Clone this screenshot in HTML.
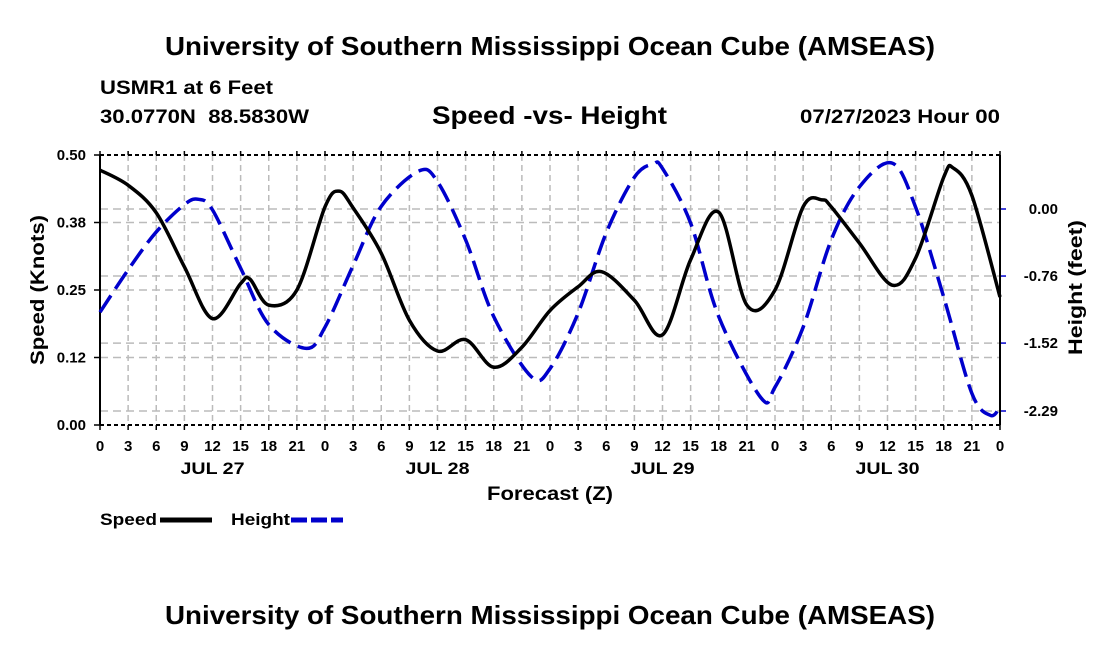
<!DOCTYPE html>
<html><head><meta charset="utf-8"><style>
body{margin:0;background:#fff}
svg text{font-family:"Liberation Sans",sans-serif;font-weight:bold}
</style></head><body>
<svg id="c" width="1100" height="650" xmlns="http://www.w3.org/2000/svg">
<text x="165" y="55" font-size="26" textLength="770" lengthAdjust="spacingAndGlyphs">University of Southern Mississippi Ocean Cube (AMSEAS)</text>
<text x="100" y="94" font-size="19" textLength="173" lengthAdjust="spacingAndGlyphs">USMR1 at 6 Feet</text>
<text x="100" y="123" font-size="19" textLength="209" lengthAdjust="spacingAndGlyphs" xml:space="preserve">30.0770N  88.5830W</text>
<text x="432" y="124" font-size="25" textLength="235" lengthAdjust="spacingAndGlyphs">Speed -vs- Height</text>
<text x="800" y="123" font-size="19" textLength="200" lengthAdjust="spacingAndGlyphs">07/27/2023 Hour 00</text>
<g id="grid"></g>
<g id="axes"></g>
<g id="series"></g>
<text x="487" y="500" font-size="19" textLength="126" lengthAdjust="spacingAndGlyphs">Forecast (Z)</text>
<text transform="translate(44,365) rotate(-90)" font-size="19" textLength="150" lengthAdjust="spacingAndGlyphs">Speed (Knots)</text>
<text transform="translate(1082,355) rotate(-90)" font-size="19" textLength="135" lengthAdjust="spacingAndGlyphs">Height (feet)</text>
<g>
<text x="100" y="525" font-size="17" textLength="57" lengthAdjust="spacingAndGlyphs">Speed</text>
<line x1="160" y1="520" x2="212" y2="520" stroke="#000" stroke-width="5"/>
<text x="231" y="525" font-size="17" textLength="59" lengthAdjust="spacingAndGlyphs">Height</text>
<line x1="291" y1="520" x2="343" y2="520" stroke="#0000cc" stroke-width="5" stroke-dasharray="16,4"/>
</g>
<text x="165" y="624" font-size="26" textLength="770" lengthAdjust="spacingAndGlyphs">University of Southern Mississippi Ocean Cube (AMSEAS)</text>
</svg>
<script>
const speedHours=[0,3,6,9,12,15,16,18,21,24,25.5,27,30,33,36,39,42,45,48,51,53.5,57,60,63,66,69,72,75,77,78,81,84.5,87,90,91,93,96];
const speedVals=[0.472,0.444,0.393,0.293,0.197,0.262,0.27,0.222,0.25,0.404,0.433,0.402,0.318,0.194,0.137,0.158,0.107,0.144,0.212,0.256,0.284,0.231,0.167,0.306,0.394,0.222,0.25,0.404,0.417,0.404,0.337,0.259,0.309,0.459,0.476,0.425,0.237];
const heightHours=[0,3,6,9,10.5,12,15,18,22,24,27,30,34,36,39,42,46,48,51,54,57,59,60,63,66,70.5,72,75,78,81,84.5,87,90,93,95,96];
const heightVals=[-1.17,-0.69,-0.26,0.05,0.11,-0.01,-0.67,-1.31,-1.58,-1.34,-0.64,0.03,0.43,0.31,-0.35,-1.22,-1.90,-1.81,-1.18,-0.27,0.36,0.51,0.46,-0.16,-1.22,-2.14,-2.02,-1.34,-0.35,0.25,0.52,0.02,-1.0,-2.09,-2.34,-2.24];
const leftTicks=[0,0.125,0.25,0.375,0.5];
const leftTickLabels=["0.00","0.12","0.25","0.38","0.50"];
const rightTicks=[0,-0.76,-1.52,-2.29];
const rightTickLabels=["0.00","-0.76","-1.52","-2.29"];
const hourLabels=["0","3","6","9","12","15","18","21"];
const dayLabels=["JUL 27","JUL 28","JUL 29","JUL 30"];
const X0=100,X1=1000,Y0=155,Y1=425;
const xs=h=>X0+h/96*(X1-X0);
const yl=v=>Y1-v/0.5*(Y1-Y0);
const yr=v=>209-v*(202/2.29);
const NS="http://www.w3.org/2000/svg";
function mk(p,t,a){const e=document.createElementNS(NS,t);for(const k in a)e.setAttribute(k,a[k]);p.appendChild(e);return e;}
const grid=document.getElementById('grid'),axes=document.getElementById('axes'),ser=document.getElementById('series');
for(let h=3;h<96;h+=3){const l=mk(grid,'line',{x1:xs(h),x2:xs(h),y1:Y0,y2:Y1,stroke:'#bbb','stroke-width':1.5,'stroke-dasharray':'6,4'});

}
leftTicks.forEach((v,i)=>{if(v>0&&v<0.5){const l=mk(grid,'line',{x1:X0,x2:X1,y1:yl(v),y2:yl(v),stroke:'#bbb','stroke-width':1.5,'stroke-dasharray':'8,5'});

}
const t=mk(axes,'text',{x:86,y:yl(v)+5,'font-size':15,'text-anchor':'end'});t.textContent=leftTickLabels[i];


mk(axes,'line',{x1:X0-6,x2:X0,y1:yl(v),y2:yl(v),stroke:'#000','stroke-width':1.5});});
rightTicks.forEach((v,i)=>{const l=mk(grid,'line',{x1:X0,x2:X1,y1:yr(v),y2:yr(v),stroke:'#bbb','stroke-width':1.5,'stroke-dasharray':'8,5'});


mk(axes,'line',{x1:X1,x2:X1+6,y1:yr(v),y2:yr(v),stroke:'#0000cc','stroke-width':1.5});
const t=mk(axes,'text',{x:1058,y:yr(v)+5,'font-size':15,'text-anchor':'end'});t.textContent=rightTickLabels[i];

});
for(let h=0;h<=96;h+=3){const t=mk(axes,'text',{x:xs(h),y:451,'font-size':15,'text-anchor':'middle'});t.textContent=hourLabels[(h/3)%8];


mk(axes,'line',{x1:xs(h),x2:xs(h),y1:Y1,y2:Y1+5,stroke:'#000','stroke-width':1.5});
mk(axes,'line',{x1:xs(h),x2:xs(h),y1:Y0-4,y2:Y0,stroke:'#000','stroke-width':1.5});}
dayLabels.forEach((d,i)=>{const t=mk(axes,'text',{x:xs(12+24*i),y:474,'font-size':17,'text-anchor':'middle',textLength:64,lengthAdjust:'spacingAndGlyphs'});t.textContent=d;

});
mk(axes,'line',{x1:X0,x2:X1,y1:Y0,y2:Y0,stroke:'#000','stroke-width':2,'stroke-dasharray':'4,3'});
mk(axes,'line',{x1:X0,x2:X1,y1:Y1,y2:Y1,stroke:'#000','stroke-width':2,'stroke-dasharray':'4,3'});
mk(axes,'line',{x1:X0,x2:X0,y1:Y0,y2:Y1,stroke:'#000','stroke-width':2});
mk(axes,'line',{x1:X1,x2:X1,y1:Y0,y2:Y1,stroke:'#000','stroke-width':2});
function spline(pts){let d=`M${pts[0][0]},${pts[0][1]}`;for(let i=0;i<pts.length-1;i++){const p0=pts[Math.max(0,i-1)],p1=pts[i],p2=pts[i+1],p3=pts[Math.min(pts.length-1,i+2)];
const c1=[p1[0]+(p2[0]-p0[0])/6,p1[1]+(p2[1]-p0[1])/6],c2=[p2[0]-(p3[0]-p1[0])/6,p2[1]-(p3[1]-p1[1])/6];
d+=`C${c1[0]},${c1[1]} ${c2[0]},${c2[1]} ${p2[0]},${p2[1]}`;}return d;}
const hp=mk(ser,'path',{d:spline(heightHours.map((h,i)=>[xs(h),yr(heightVals[i])])),fill:'none',stroke:'#0000cc','stroke-width':3.5,'stroke-dasharray':'20,8'});


const sp=mk(ser,'path',{d:spline(speedHours.map((h,i)=>[xs(h),yl(speedVals[i])])),fill:'none',stroke:'#000','stroke-width':3.5});


</script>
</body></html>
